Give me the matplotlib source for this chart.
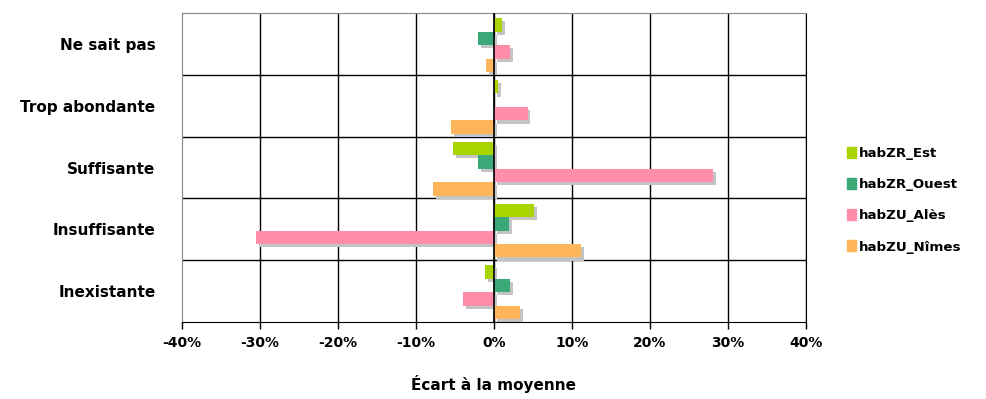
import numpy as np
import matplotlib.pyplot as plt
from matplotlib.patches import Patch

# categories top to bottom
categories = ['Ne sait pas', 'Trop abondante', 'Suffisante', 'Insuffisante', 'Inexistante']
series = ['habZR_Est', 'habZR_Ouest', 'habZU_Alès', 'habZU_Nîmes']

# écart à la moyenne, %
habZR_Est = [1.0, 0.5, -5.3, 5.1, -1.1]
habZR_Ouest = [-2.0, 0.0, -2.0, 1.9, 2.0]
habZU_Ales = [2.0, 4.3, 28.1, -30.5, -4.0]
habZU_Nimes = [-1.0, -5.5, -7.8, 11.2, 3.3]

xticks = [-40, -30, -20, -10, 0, 10, 20, 30, 40]
xticklabels = ['-40%', '-30%', '-20%', '-10%', '0%', '10%', '20%', '30%', '40%']

colors = ['#AAD400', '#3BA878', '#FF8DA9', '#FFB65A']
shadow = '#C4C4C4'

plt.rcParams['font.family'] = ['DejaVu Sans']

fig = plt.figure(figsize=(9.87, 3.99), dpi=100)
ax = fig.add_axes([0.1844, 0.193, 0.6322, 0.7744])

values = [habZR_Est, habZR_Ouest, habZU_Ales, habZU_Nimes]
y = np.arange(len(categories))
h = 0.218
for k, vals in enumerate(values):
    pos = y + (k - 1.5) * h + 0.02
    # drop shadow
    ax.barh(pos + 0.05, vals, height=h, left=0.38, color=shadow, zorder=2)
    ax.barh(pos, vals, height=h, color=colors[k], zorder=3)

ax.set_xlim(-40, 40)
ax.set_ylim(len(categories) - 0.5, -0.5)
ax.set_xticks(xticks)
ax.set_xticklabels(xticklabels, fontsize=10, fontweight='bold')
ax.set_yticks(y)
ax.set_yticklabels(categories, fontsize=11, fontweight='bold')
ax.tick_params(axis='y', length=0, pad=19)
ax.tick_params(axis='x', length=5, width=1, direction='out', pad=5, color='black')

for xv in xticks[1:]:
    ax.axvline(xv, color='black', lw=1, zorder=1)
for yv in np.arange(0.5, len(categories) - 0.5, 1):
    ax.axhline(yv, color='black', lw=1, zorder=1)
ax.axvline(0, color='black', lw=1.2, zorder=4)

for s in ['top', 'left']:
    ax.spines[s].set_color('#888888')
ax.spines['right'].set_color('black')
ax.spines['bottom'].set_color('black')

ax.set_xlabel('Écart à la moyenne', fontsize=11, fontweight='bold', labelpad=18)

handles = [Patch(color=c, label=s) for c, s in zip(colors, series)]
fig.legend(handles=handles, loc='center left', bbox_to_anchor=(0.846, 0.498),
           frameon=False, prop={'weight': 'bold', 'size': 9.6},
           handlelength=0.7, handleheight=0.9, handletextpad=0.2, labelspacing=1.35)

fig.savefig('out.png', dpi=100)
